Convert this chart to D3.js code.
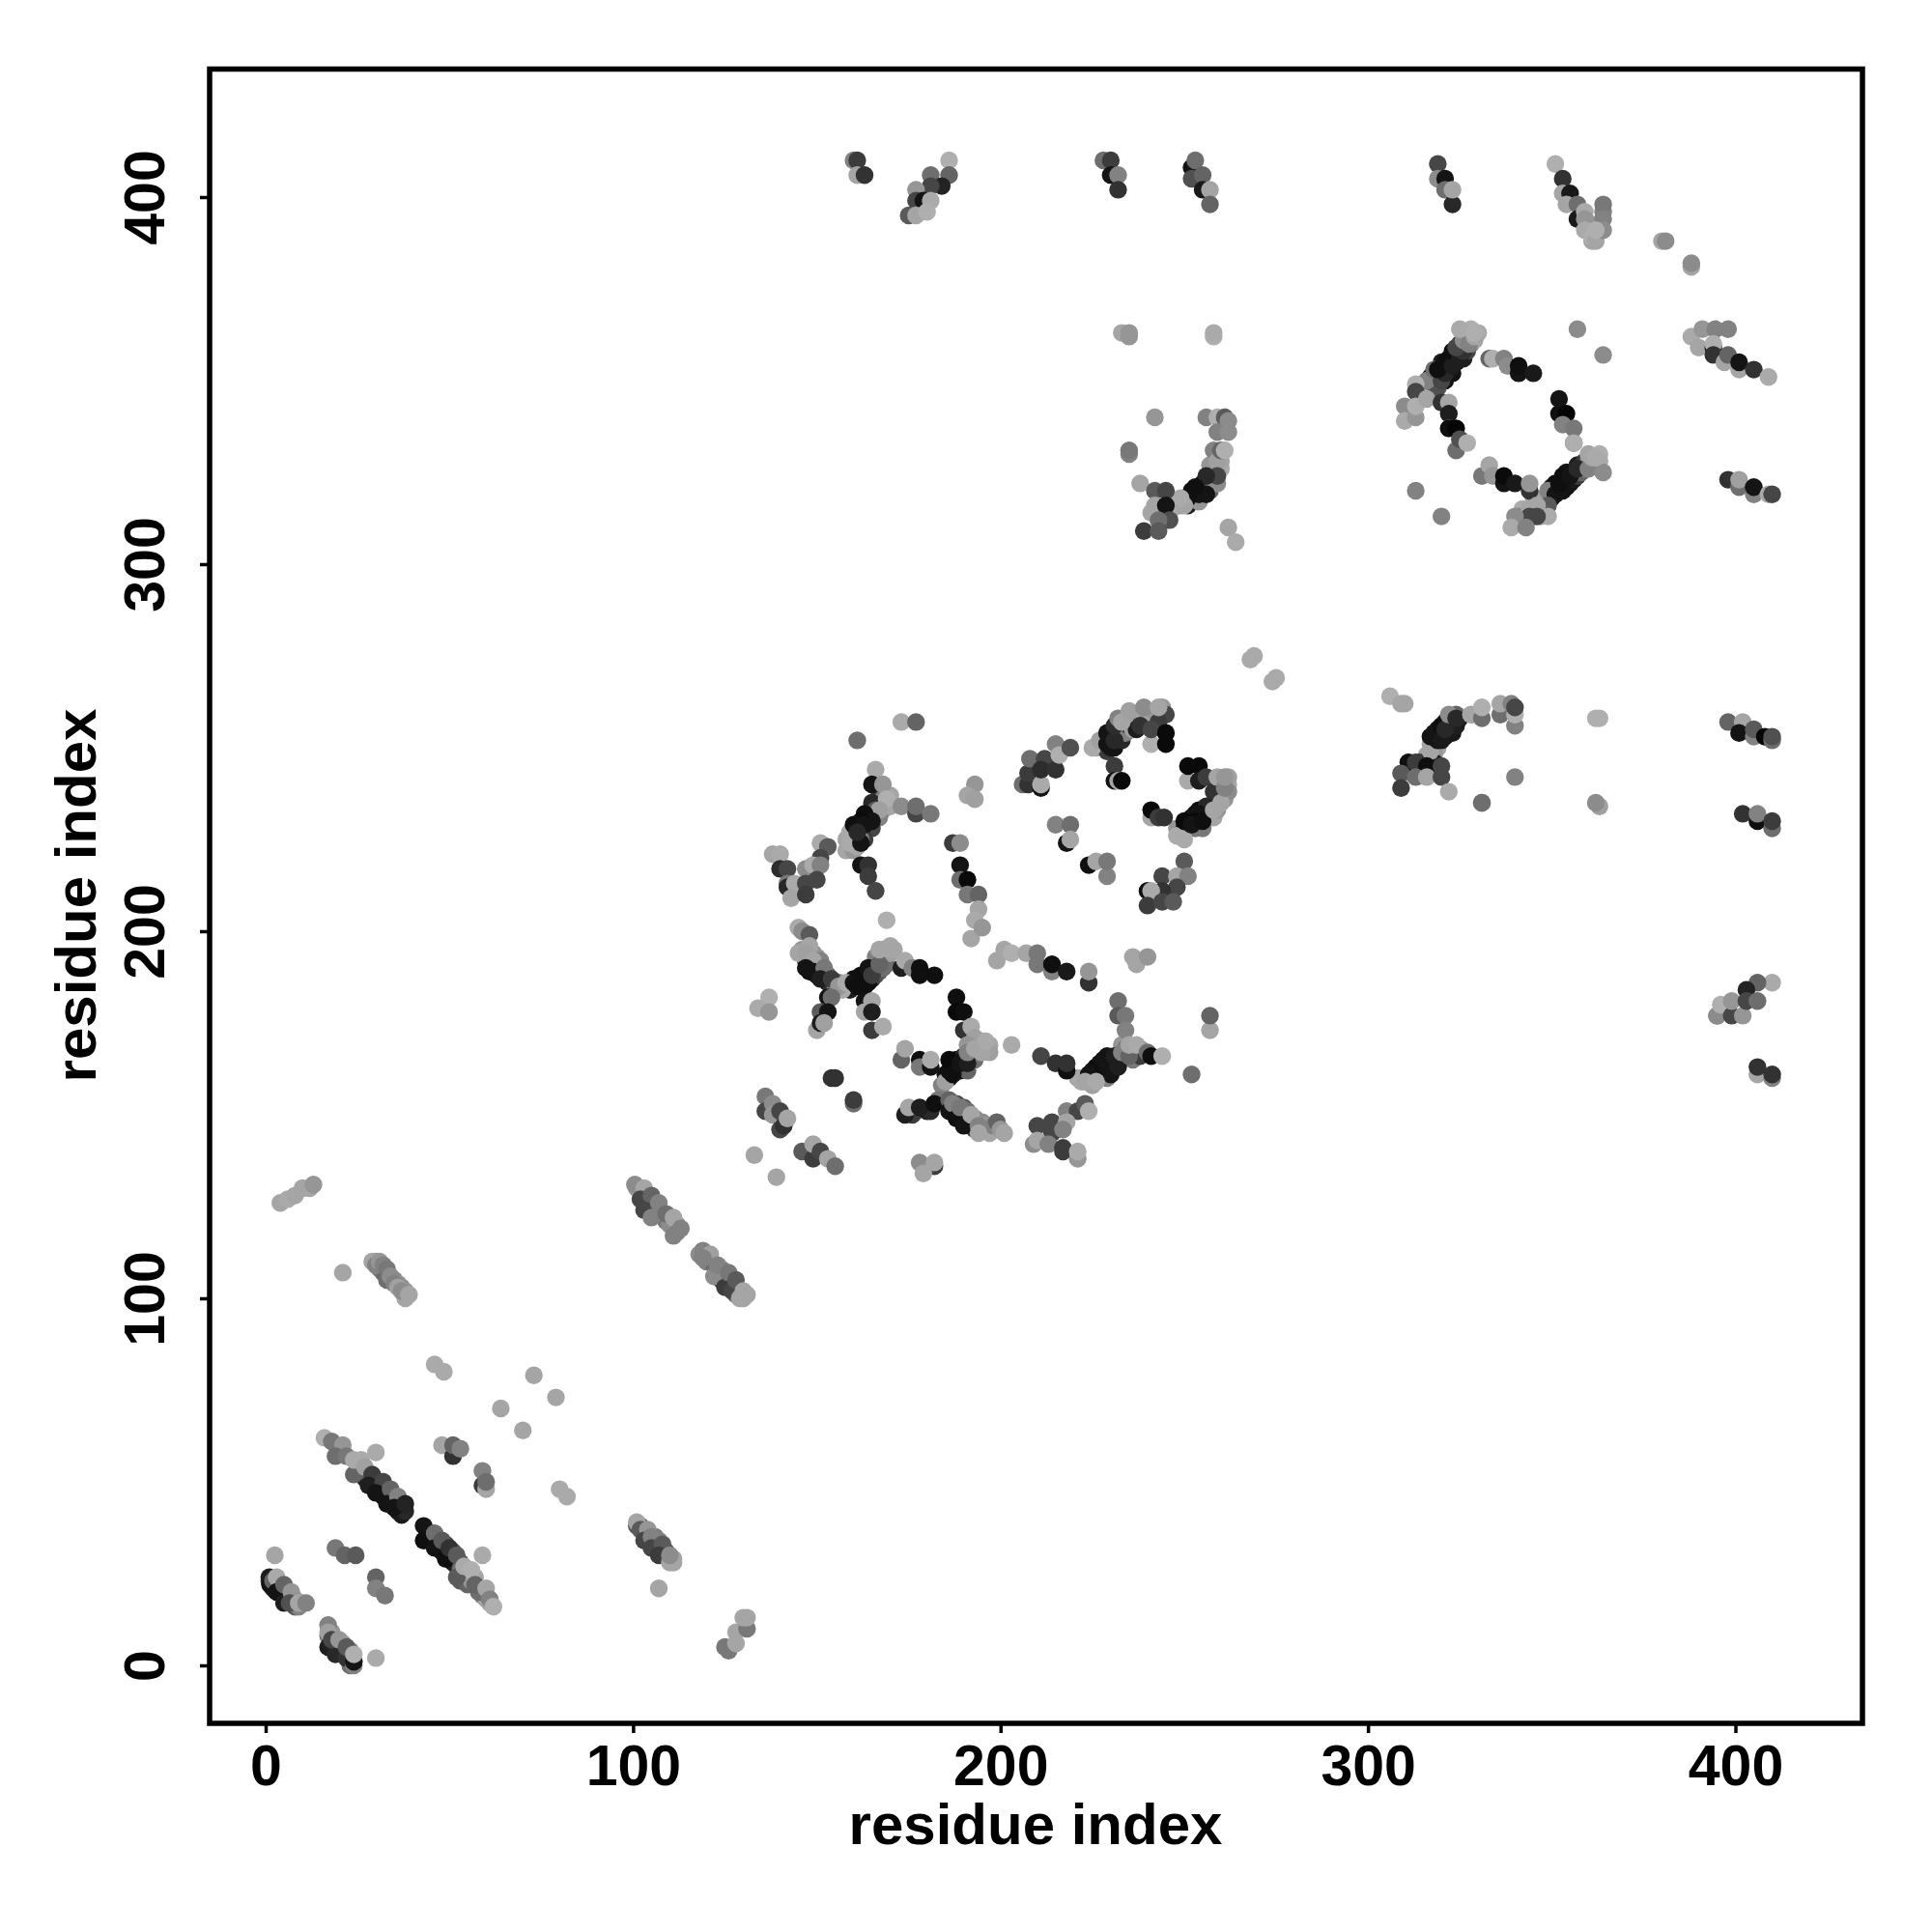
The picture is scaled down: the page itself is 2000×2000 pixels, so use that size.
<!DOCTYPE html>
<html><head><meta charset="utf-8">
<script src="https://cdn.jsdelivr.net/npm/d3@7"></script>
<style>html,body{margin:0;padding:0;background:#fff}svg{display:block}</style>
</head><body><div id="c"></div>
<script>
// each contact: [residue index x, residue index y, shade level]
const axisTicks=[0,100,200,300,400];
const axisTitle="residue index";
const bandHelixA=[[27,51,40],[28,50,30],[29,49,20],[30,48,15],[31,47,15],[32,46,15],[33,45,15],[34,44,15],[35,43,20],[36,42,20],[37,41,25],[27,53,70],[28,52,90],[29,51,90],[30,50,100],[31,50,90],[32,48,80],[33,47,110],[34,46,120],[35,45,130],[36,44,140],[37,43,60],[38,42,40]];
const bandHelixB=[[44,35,15],[45,34,20],[46,33,15],[47,32,20],[48,31,15],[49,30,20],[50,29,15],[51,28,20],[52,27,30],[44,36,90],[45,36,60],[47,34,110],[49,33,80],[50,31,80],[51,31,90],[53,28,80],[53,26,110],[54,25,150],[55,25,165],[53,23,90],[55,22,100],[56,23,150],[57,24,165],[58,21,130],[59,20,120],[59,19,130],[60,18,165],[61,17,165]];
const bandCorner=[[1,23,60],[2,21,40],[3,22,60],[4,20,50],[4,21,110],[5,19,40],[6,19,100],[6,18,60],[7,18,140],[8,18,160],[8,16,90],[9,16,130],[10,17,165],[17,8,120],[18,5,50],[18,9,150],[19,6,70],[20,4,40],[20,5,140],[21,3,30],[21,6,150],[22,4,70],[23,2,20],[23,4,120],[23,0,110]];
const bandStrandC=[[101,38,90],[102,38,110],[103,36,60],[104,36,130],[104,34,70],[105,34,50],[106,33,60],[106,35,120],[107,32,50],[107,34,130],[108,31,60],[108,32,100],[109,31,80],[109,30,120],[110,29,150],[111,29,165],[111,28,165]];
const bandStrandE=[[101,130,150],[102,129,160],[103,128,120],[104,127,90],[104,125,70],[105,126,100],[106,125,90],[106,123,80],[107,124,130],[108,123,110],[109,121,120],[110,122,150],[110,120,140],[112,120,150],[112,118,130],[118,112,140],[120,112,150],[120,110,130],[121,110,130],[122,109,110],[123,107,90],[124,108,130],[124,105,70],[125,106,100],[126,104,70],[127,105,100],[128,103,80],[128,101,100],[129,102,160],[131,101,165]];
const bandStrandD=[[30,110,150],[31,108,130],[32,107,110],[33,106,100],[34,105,120],[35,105,130],[36,104,150],[37,103,140],[38,102,150],[38,100,165]];
const bandArmA=[[160,227,20],[161,228,15],[162,229,15],[163,231,10],[164,232,15],[165,234,20],[166,235,30],[167,237,60],[161,226,30],[162,227,20],[163,227,20],[164,229,20],[165,231,20],[166,232,60],[167,234,90],[168,236,130],[169,235,140],[170,237,165],[168,233,150],[167,231,130],[165,228,70],[163,225,60],[160,225,140],[158,225,165],[158,222,165],[160,222,150],[161,223,165],[170,234,165]];
const bandCrossLeft=[[147,192,50],[148,191,30],[148,189,20],[149,190,20],[150,188,15],[150,190,100],[151,189,110],[152,187,15],[152,189,130],[153,186,20],[153,188,110],[154,185,50],[155,186,60],[155,184,130],[156,186,120],[146,195,150],[149,194,140],[150,193,150],[151,192,130]];
const bandCrossRight=[[159,184,30],[160,187,15],[161,186,10],[162,186,10],[163,187,15],[163,185,15],[164,188,10],[165,189,20],[165,187,40],[166,190,30],[166,188,70],[167,189,90],[168,192,100],[168,190,110],[169,193,130],[169,191,110],[170,194,160],[171,195,165],[168,195,165],[166,193,130],[157,184,170]];
const bandCrossC=[[184,158,130],[185,161,15],[186,160,15],[187,163,15],[188,162,10],[188,165,15],[189,162,20],[190,166,40],[190,165,20],[191,162,100],[192,166,70],[192,165,120],[193,165,110],[194,167,130],[194,169,130],[195,170,165],[197,169,165],[197,167,160],[193,171,160],[191,169,150]];
const bandCrossD=[[187,151,20],[188,153,70],[189,150,15],[190,152,90],[191,149,20],[191,151,110],[192,147,30],[193,149,130],[193,146,60],[195,148,140],[195,146,130],[196,147,150],[197,145,165],[198,147,130],[177,151,120],[176,150,60],[180,151,30],[181,151,40]];
const bandArmMid=[[221,160,165],[222,159,170],[224,160,165],[225,158,160],[225,162,15],[226,163,15],[227,161,15],[227,164,15],[228,165,20],[229,162,20],[229,166,20],[230,164,15],[231,163,20],[232,165,25],[233,165,60],[233,169,150],[234,168,120],[235,168,140],[236,167,165],[236,165,120],[238,168,150],[238,166,60],[227,160,165],[229,160,130]];
const bandRingA=[[226,250,160],[228,250,160],[228,252,20],[229,249,60],[230,253,15],[230,250,25],[231,250,20],[232,253,15],[232,255,30],[233,254,25],[233,252,40],[234,254,130],[234,258,150],[235,256,50],[236,257,165],[236,255,160],[237,258,160],[237,255,30],[238,259,140],[239,258,165],[240,258,150],[241,259,150],[241,257,160],[242,260,150],[244,261,150],[244,259,150],[245,259,70],[243,257,60]];
const bandRingB=[[248,228,150],[249,227,150],[250,228,30],[251,229,10],[252,231,15],[253,232,20],[254,233,15],[255,232,10],[256,232,15],[257,233,20],[258,235,160],[259,236,150],[260,238,170],[262,240,170],[262,242,160],[251,228,100],[253,228,120],[255,228,120],[256,231,110],[257,231,130],[258,231,165],[259,233,150],[261,236,150],[260,241,160],[262,238,140],[248,226,170]];
const bandUpperMid=[[248,316,165],[249,316,150],[250,318,20],[251,316,30],[252,320,15],[252,317,20],[253,319,10],[254,321,20],[254,317,150],[255,322,15],[255,320,15],[256,322,30],[257,320,100],[257,323,40],[258,322,130],[258,325,130],[260,326,170],[260,328,165],[257,327,150],[246,314,160],[245,312,60],[247,316,170],[243,314,130],[241,314,165]];
const bandUpperA=[[317,351,15],[318,350,20],[319,351,15],[320,353,15],[320,355,30],[321,350,20],[322,353,15],[322,356,20],[323,352,20],[323,356,40],[324,355,15],[324,357,25],[325,358,20],[325,360,60],[326,356,30],[326,359,100],[327,358,70],[327,361,150],[328,360,120],[328,362,170],[329,361,165],[330,363,170],[328,364,175],[326,363,165],[315,347,110],[314,345,170],[316,347,130],[317,347,165],[318,349,100],[319,348,80]];
const bandUpperC=[[348,318,90],[349,319,15],[350,318,20],[350,321,30],[351,322,15],[352,320,15],[353,322,15],[354,321,20],[354,325,20],[355,322,20],[356,325,15],[356,323,25],[357,327,30],[357,324,60],[358,327,40],[358,325,100],[359,328,60],[359,326,120],[360,328,140],[360,330,165],[361,327,150],[363,330,175],[363,328,170],[347,317,110],[346,315,165],[345,318,165],[348,315,165],[347,313,165],[342,315,170],[341,313,130],[345,313,60]];
const bandLowerRight=[[318,252,20],[318,250,165],[319,255,15],[319,250,165],[320,253,20],[321,257,20],[321,253,15],[322,256,20],[322,258,25],[323,254,25],[323,257,20],[324,256,30],[325,258,30],[324,259,100],[316,248,165],[318,248,150],[318,246,20],[315,245,20],[314,246,50],[317,244,25],[313,244,170],[313,243,90],[319,245,25],[312,243,110]];
const helixA=[[16,62,175],[18,61,120],[21,60,150],[19,57,110],[22,57,120],[30,58,170],[24,52,100],[24,56,170],[26,56,170],[27,54,160],[29,52,60],[28,49,30],[32,50,70],[30,47,20],[34,48,100],[33,44,20],[36,46,130],[35,43,20],[38,44,35]];
const helixB=[[43,38,20],[43,34,15],[46,36,110],[46,32,20],[48,34,90],[49,29,15],[50,32,50],[52,30,90],[52,24,90],[59,30,170],[54,27,170],[56,26,175],[58,20,110],[57,22,100],[60,21,165],[61,18,130],[62,16,175]];
const farLow=[[46,82,170],[48.5,80,170],[73,79,165],[79,73,165],[64,70,165],[70,64,165],[48,60,165],[51,57,50],[51,60,100],[53,59,130],[59,49,60],[59,53,130],[60,48,165],[60,50,110],[80,48,170],[82,46,170],[21,107,165]];
const cornerLow=[[2.5,30,165],[19,32,120],[21.5,30,100],[24.5,30,90],[30,24,100],[30,21,130],[32.5,19,120],[1,24,30],[1.2,22,20],[2,23,100],[3,24,170],[3,20,20],[5,22,100],[5,17,30],[7,20,150],[6.5,17,80],[9,17,165],[11,17,130],[17,11,130],[17,9,160],[17,5,30],[19,3,40],[18,7,70],[20,7,150],[22,2,50],[22,5,90],[24,0,130],[24,1,20],[24,3,175],[30,2,170]];
const strandC=[[101,39,165],[102,37,90],[104,37,150],[103,34,70],[105,35,130],[105,32,70],[108,33,90],[107,30,60],[110,28,165],[110,30,140],[107,21,165],[125,5,120],[126,4,120],[128,6,165],[128,9,165],[131,10,120],[130,13,165],[131,13,165]];
const strandD=[[4,126,165],[6,127,170],[8,128,165],[10,130,165],[12,130,165],[13,131,150],[29,110,165],[30,109,130],[31,110,150],[32,109,130],[33,108,120],[33,105,110],[34,106,140],[35,104,130],[36,103,160],[37,102,140],[39,101,165]];
const strandE=[[100.5,131,140],[103,130,165],[102,127,70],[105,128,100],[103,124,70],[107,126,130],[105,122,130],[109,123,110],[111,122,165],[111,117,130],[113,119,130],[119,113,130],[121,112,160],[119,111,130],[122,106,140],[123,109,130],[125,103,60],[126,107,120],[127,102,70],[128,105,90],[129,100,165],[130,102,165],[130,100,165]];
const armA=[[161,252,110],[173,257,170],[177,257,100],[166,244,170],[165,240,20],[168,240,150],[165,235,40],[166,233,90],[169,236,175],[167,233,160],[159,227,170],[159,224,170],[162,225,130],[162,224,20],[163,232,15],[165,230,20],[162,230,10],[160,229,15],[163,229,20],[161,227,40],[173,234,140],[177,232,70],[177,234,110],[181,232,120],[193,240,150],[191,237,165],[193,236,160]];
const clusterLeft=[[138,221,165],[140,221,170],[151,224,170],[153,223,90],[151,220,70],[140,217,45],[142,217,70],[147,217,140],[149,218,170],[151,218,130],[142,213,120],[142,212,40],[144,213,170],[147,213,70],[150,214,70],[143,209,165],[147,210,60],[162,218,20],[164,218,50],[164,215,60],[166,211,70],[169,203,175]];
const armRight=[[187,224,60],[189,224,140],[189,218,20],[189,214,110],[191,214,10],[191,210,120],[194,210,100],[194,206,165],[193,203,170],[192,198,165],[195,201,150]];
const crossA=[[145,201,170],[146,200,140],[148,199,90],[148,196,165],[145,194,165],[147,194,160],[149,192,165],[147,190,20],[149,189,20],[152,190,120],[151,187,30],[154,187,60],[156,185,150],[158,186,170],[160,186,20],[161,185,15],[162,188,15],[164,186,15],[164,190,20],[165,188,60],[167,191,100],[167,195,165],[170,196,165],[173,190,30],[174,192,170],[176,190,130],[178,188,15],[178,190,15],[182,188,15]];
const crossB=[[153,182,20],[154,182,110],[151,178,90],[153,178,20],[150,173,165],[151,175,30],[152,175,160],[163,181,20],[165,181,165],[163,178,165],[165,178,30],[165,173,60],[168,174,170],[137,182,175],[134,179,170],[137,178,150],[188,182,15],[188,178,10],[190,178,15],[190,173,50],[192,174,170]];
const crossC=[[185,159,160],[186,162,15],[186,165,10],[187,161,15],[189,164,20],[191,164,30],[191,167,130],[193,168,165],[195,167,165],[196,170,170],[203,169,170],[173,165,100],[174,168,165],[178,165,15],[178,163,120],[181,163,20],[181,165,170],[154,160,50],[155,160,50],[160,153,110],[160,154,60]];
const crossD=[[174,150,30],[175,152,165],[178,152,30],[183,154,120],[182,153,15],[186,154,100],[186,151,20],[187,153,130],[188,149,15],[189,152,120],[190,147,20],[192,150,165],[194,147,130],[194,145,165],[199,148,100],[200,146,150],[201,145,165],[136,155,120],[136,151,70],[138,153,140],[138,150,150],[140,151,70],[140,146,70],[141,147,50],[142,149,165],[133,139,165],[139,133,165],[146,140,90],[149,138,60],[149,142,165],[151,140,70],[153,138,165],[155,136,110],[182,136,60],[178,137,140],[182,137,165],[179,134,165]];
const clusterMid=[[210,147,70],[214,148,70],[214,145,70],[218,151,130],[221,151,70],[223,153,90],[224,151,175],[218,148,165],[217,146,130],[209,142,140],[210,143,165],[213,142,130],[217,140,60],[217,141,60],[221,138,150],[221,140,170]];
const rowMid=[[199,192,165],[201,195,165],[203,194,175],[207,194,165],[210,191,120],[210,194,120],[214,189,130],[214,191,15],[218,189,25],[224,186,50],[224,189,150],[236,193,165],[237,191,165],[240,193,150]];
const armMid=[[232,181,110],[232,177,90],[234,177,120],[234,173,130],[211,166,70],[215,164,50],[218,162,15],[218,164,50],[224,161,20],[228,162,15],[229,164,20],[230,161,20],[231,166,30],[232,163,30],[223,159,165],[226,159,170],[233,167,130],[235,166,100],[235,169,165],[237,169,170],[240,167,110],[241,166,15],[244,166,175],[252,161,110],[257,173,165],[257,177,100]];
const ringA=[[206,240,110],[207.5,240,50],[207.5,243,60],[211,239,20],[211,240,170],[208,247,110],[212,247,70],[211,244,45],[215,244,50],[215,251,130],[216,248,175],[219,250,80],[225,250,170],[227,252,160],[229,251,20],[229,254,20],[231,252,40],[231,256,45],[232,258,130],[233,257,165],[235,260,160],[239,261,140],[243,261,165],[238,256,50],[241,251,175],[241,255,70],[245,251,10],[245,254,10]];
const ringB=[[231,245,60],[231,241,20],[232,241,165],[233,241,10],[251,241,170],[251,245,10],[254,245,10],[254,241,30],[256,242,60],[258,238,50],[256,234,40],[254,232,20],[253,230,10],[250,225,170],[250,230,10],[252,229,20],[255,230,15],[258,233,165],[260,235,165],[259,242,165],[261,239,130],[261,242,150]];
const ringC=[[241,231,165],[241,233,10],[243,231,60],[244.5,231,50],[250,219,90],[244,215,70],[248,215,165],[251,215,130],[248,212,70],[244,211,50],[240,211,15],[241,211,170],[240,207,60],[244,208,70],[247,208,90],[215,229,130],[219,229,110],[218,224,20],[219,225,165],[224,218,15],[226,219,165],[229,215,130],[229,219,120],[268,274,170],[269,275,170],[274,268,170],[275,269,170]];
const upperMid=[[233,363,165],[235,363,150],[235,362,150],[258,362,175],[258,363,170],[242,340,150],[256,340,130],[259,340,175],[261,340,90],[262,339,140],[259,336,130],[262,336,140],[258,331,130],[259,328,160],[260,331,100],[261,331,175],[259,322,140],[259,324,70],[256,324,40],[256,319,20],[254,319,20],[253,321,15],[251,318,15],[250,316,165],[249,318,170],[238,322,165],[235,330,130],[235,331,120],[242,320,90],[245,320,70],[242,316,165],[245,316,20],[246,312,80],[243,312,110],[239,309,60],[243,309,90],[262,310,165],[264,306,170]];
const upperArmA=[[316,350,130],[318,353,110],[320,350,70],[321,352,40],[319,353,15],[321,355,15],[323,354,30],[323,358,15],[325,356,30],[326,358,50],[324,359,70],[326,361,140],[327.5,360,130],[325,364,170],[329,362,165],[329,363,175],[313,349,175],[313,347,70],[310,343,140],[310,339,170],[313,340,150],[313,343,175],[316,345,165],[320,344,50],[322,344,165]];
const upperArmB=[[322,341,30],[322,337,170],[322,337,15],[324,337,5],[324,331,110],[325,334,80],[327,333,175],[333,356,100],[334,356,175],[337,356,130],[338,354,140],[341,352,20],[341,354,15],[345,352,25],[352,341,15],[352,345,20],[354,341,5],[353,338,130],[356,337,120],[356,333,90],[356,333,175],[357,364,140],[364,357,140]];
const upperArmC=[[331,324,120],[333,327,165],[334,324,150],[337,322,20],[337,324,10],[340,322,25],[344,320,50],[344,322,150],[349,320,130],[351,319,20],[353,320,20],[352,322,15],[353,324,15],[355,324,20],[357,326,40],[360,326,130],[361,329,165],[364,325,140],[362,329,170],[349,316,90],[349,313,170],[346,316,165],[344,315,165],[344,313,70],[346,313,70],[340,313,140],[339,310,170],[343,310,130],[313,320,130],[320,313,130]];
const upperRight=[[388,362,170],[391,364,150],[394.5,364,130],[398,364,130],[390,359,165],[394,359,20],[394,360,175],[394,357,50],[397,355,165],[398,357,100],[401,353,165],[401,355,20],[405,353,50],[409,351,170],[398,323,50],[401,321,110],[401,323,160],[405,319,130],[405,321,20],[409,319,170],[410,319,70]];
const lowerRight=[[306,264,175],[309,262,165],[310,262,165],[317,251,165],[317,249,165],[318,254,20],[319,252,20],[317,253,20],[320,256,15],[320,252,25],[321,255,40],[322,259,140],[324,258,40],[311,246,170],[311,246,15],[313,246,60],[316,245,15],[309,243,90],[313,242,110],[316,242,165],[320,245,70],[320,242,70],[309,239,60],[322,238,170],[328,259,165],[331,258,110],[331,261,175],[336,259,110],[336,262,165],[339,262,130],[340,256,130],[340,259,175],[340,261,70],[340,242,130],[331,235,120],[331,235,110],[362,258,175],[363,258,175],[363,234,160],[362,235,140]];
const edgeRight=[[398,257,100],[402,257,165],[401,254,20],[405,253,130],[405,255,90],[408,253,5],[410,252,110],[410,253,80],[406,230,15],[402,232,50],[406,232,130],[410,228,110],[410,230,60],[410,186,170],[406,186,100],[403,184,35],[395,177,100],[395,177,140],[396,180,175],[399,177,70],[399,181,150],[402,177,150],[403,181,70],[406,181,110],[406,161,165],[406,163,50],[410,160,130],[410,161,50]];
const topRow=[[160,410,130],[161,410,60],[161,406,165],[163,406,50],[186,410,175],[186,406,100],[181,406,110],[184,403,35],[181,403,70],[177,402,150],[177,399,70],[179,399,20],[181,399,170],[175,395,90],[177,395,165],[180,396,175],[228,410,110],[230,410,60],[230,406,20],[232,406,130],[232,402,50],[252,408,20],[253,410,110],[252,405,80],[255,406,100],[255,402,25],[257,402,165],[257,398,100]];
const topRight=[[319,409,70],[319,405,140],[321,405,20],[321,402,110],[323,398,40],[323,402,165],[351,409,175],[353,405,50],[353,401,165],[355,401,25],[354,398,165],[357,398,110],[357,394,25],[359,396,170],[359,394,150],[360,393,150],[359,391,170],[361,388,165],[361,389,175],[362,388,165],[364,396,130],[364,398,120],[364,394,130],[364,391,140],[362,391,175],[380,388,165],[381,388,140],[388,381,165],[388,382,140]];

const contacts=[].concat(bandHelixA,bandHelixB,bandCorner,bandStrandC,bandStrandD,bandStrandE,helixA,helixB,farLow,cornerLow,strandC,strandD,strandE,bandArmA,armA,clusterLeft,armRight,bandCrossLeft,bandCrossRight,crossA,crossB,bandCrossC,crossC,bandCrossD,crossD,clusterMid,rowMid,bandArmMid,armMid,bandRingA,ringA,bandRingB,ringB,ringC,bandUpperMid,upperMid,bandUpperA,upperArmA,upperArmB,bandUpperC,upperArmC,upperRight,bandLowerRight,lowerRight,edgeRight,topRow,topRight);

const W=2000,H=2000;
const svg=d3.select("#c").append("svg").attr("width",W).attr("height",H).style("font-family","'Liberation Sans',Arial,sans-serif").style("font-weight","bold");
const x=d3.scaleLinear().domain([0,400]).range([275,1796.5]);
const y=d3.scaleLinear().domain([0,400]).range([1724,204]);
const shade=d3.scaleLinear().domain([0,255]).range(["#000000","#ffffff"]);
const left=217,right=1928,top_=71.5,bottom=1784;

svg.append("g").selectAll("circle").data(contacts).join("circle")
 .attr("cx",d=>x(d[0])).attr("cy",d=>y(d[1])).attr("r",9.2).attr("fill",d=>shade(d[2]));

svg.append("rect").attr("x",left).attr("y",top_).attr("width",right-left).attr("height",bottom-top_)
 .attr("fill","none").attr("stroke","#000").attr("stroke-width",5.5);

const gx=svg.append("g").attr("transform",`translate(0,${bottom})`)
 .call(d3.axisBottom(x).tickValues(axisTicks).tickSize(10).tickPadding(12));
const gy=svg.append("g").attr("transform",`translate(${left},0)`)
 .call(d3.axisLeft(y).tickValues(axisTicks).tickSize(10).tickPadding(0));
[gx,gy].forEach(g=>{g.select(".domain").remove();g.selectAll("line").attr("stroke","#000").attr("stroke-width",3.5);
 g.selectAll("text").attr("fill","#000").style("font-size","59px").style("font-family","'Liberation Sans',Arial,sans-serif").style("font-weight","bold");});
gy.selectAll("text").attr("x",null).attr("dy",null).attr("text-anchor","middle")
 .attr("transform","translate(-47,0) rotate(-90)");

svg.append("text").attr("x",1072).attr("y",1909).attr("text-anchor","middle").style("font-size","60px").text(axisTitle);
svg.append("text").attr("transform","translate(99,927) rotate(-90)").attr("text-anchor","middle").style("font-size","60px").text(axisTitle);
</script></body></html>
